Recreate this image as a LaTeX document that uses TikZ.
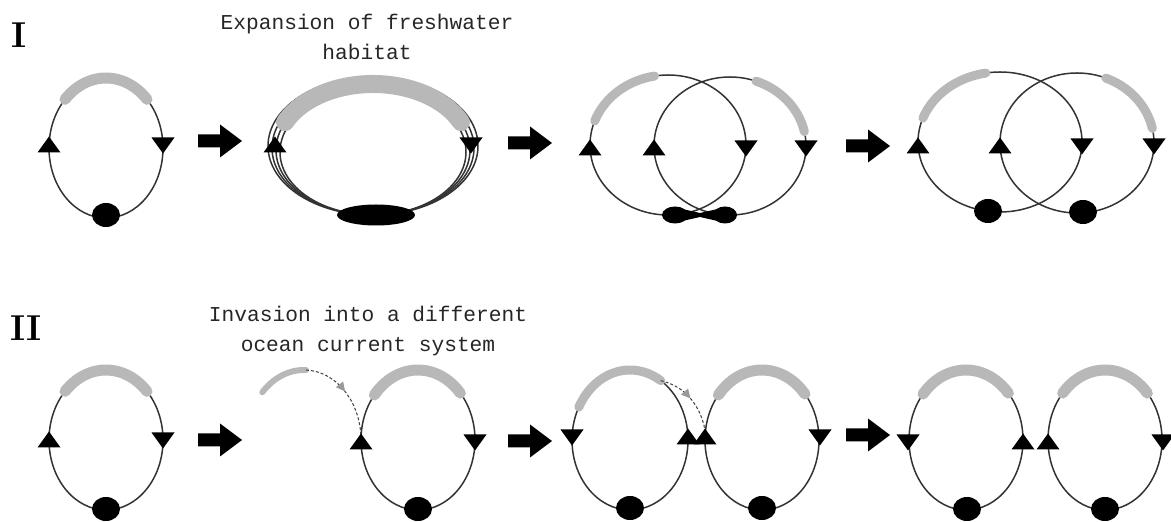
\documentclass[tikz,border=0pt]{standalone}
\usepackage{fontspec}
\setmonofont{Liberation Mono}
\usetikzlibrary{arrows.meta,shapes.geometric,decorations.markings}

\tikzset{
  current/.style={draw=black!80, line width=0.75pt},
  fresh/.style={draw=black!28, line width=5.5pt, line cap=round},
  spawn/.style={ellipse, fill=black, inner sep=0pt, minimum width=14pt, minimum height=12pt},
  caption/.style={font=\ttfamily\fontsize{10.6}{15}\selectfont, text=black!85, align=center},
  roman/.style={font=\bfseries\fontsize{18}{18}\selectfont},
  drift/.style={draw=black!75, line width=0.5pt, dash pattern=on 1.5pt off 1pt,
    postaction={decorate, decoration={markings, mark=at position 0.5 with
      {\arrow[draw=black!40, fill=white, solid]{Triangle[length=4.5pt, width=4.5pt]}}}}},
  upmark/.pic={\fill (-11.5,-7.5) -- (11.5,-7.5) -- (0,8.5) -- cycle;},
  downmark/.pic={\fill (-11.5,7.5) -- (11.5,7.5) -- (0,-8.5) -- cycle;},
  bigarrow/.pic={\fill (-22,-6.5) -- (0,-6.5) -- (0,-16.5) -- (22,0) -- (0,16.5) -- (0,6.5) -- (-22,6.5) -- cycle;},
}

\begin{document}
\begin{tikzpicture}[x=0.5pt, y=0.5pt]
    \useasboundingbox (0,0) rectangle (1171,-522);

    % row I
    \node[roman] (r1) at (19,-35) {I};
    \node[caption] (cap1) at (367,-37) {Expansion of freshwater\\habitat};

    \coordinate (a1) at (106,-148);
    \draw[current] (a1) ellipse [x radius=57, y radius=70];
    \draw[fresh] (a1) ++(136:57 and 70) arc [start angle=136, end angle=44, x radius=57, y radius=70];
    \node[spawn] (s1) at (106,-215) {};
    \pic at (49,-145) {upmark};
    \pic at (163,-145) {downmark};
    \pic at (220,-141) {bigarrow};

    \coordinate (b1) at (373,-150);
    \foreach \rx/\ry in {105/69, 101/67, 97/65, 93/63}
        \draw[current] (373,{-215+\ry}) ellipse [x radius=\rx, y radius=\ry];
    \draw[fresh, line width=9pt] (b1) ++(155:97 and 66) arc [start angle=155, end angle=25, x radius=97, y radius=66];
    \node[spawn, minimum width=39pt, minimum height=10.5pt] (s2) at (376,-215) {};
    \pic at (275,-145) {upmark};
    \pic at (471,-145) {downmark};
    \pic at (530,-143) {bigarrow};

    \coordinate (c1) at (668,-145);
    \coordinate (c2) at (730,-146);
    \draw[current] (c1) ellipse [x radius=78, y radius=70];
    \draw[current] (c2) ellipse [x radius=76, y radius=69];
    \draw[fresh, line width=4.5pt] (c1) ++(160:78 and 70) arc [start angle=160, end angle=100, x radius=78, y radius=70];
    \draw[fresh, line width=4.5pt] (c2) ++(70:76 and 69) arc [start angle=70, end angle=12, x radius=76, y radius=69];
    \fill (675,-215) ellipse [x radius=13, y radius=8.5];
    \fill (725,-215) ellipse [x radius=12, y radius=8.5];
    \fill (678,-208) -- (700,-213) -- (722,-208) -- (722,-222) -- (700,-217) -- (678,-222) -- cycle;
    \pic at (590,-148) {upmark};
    \pic at (654,-148) {upmark};
    \pic at (746,-148) {downmark};
    \pic at (806,-148) {downmark};
    \pic at (868,-146) {bigarrow};

    \coordinate (d1) at (1000,-142);
    \coordinate (d2) at (1077,-143);
    \draw[current] (d1) ellipse [x radius=82, y radius=70];
    \draw[current] (d2) ellipse [x radius=77, y radius=70];
    \draw[fresh, line width=4.5pt] (d1) ++(160:82 and 70) arc [start angle=160, end angle=100, x radius=82, y radius=70];
    \draw[fresh, line width=4.5pt] (d2) ++(68:77 and 70) arc [start angle=68, end angle=12, x radius=77, y radius=70];
    \node[spawn] (s3) at (988,-211) {};
    \node[spawn] (s4) at (1083,-212) {};
    \pic at (918,-146) {upmark};
    \pic at (1082,-146) {downmark};
    \pic at (1000,-146) {upmark};
    \pic at (1154,-146) {downmark};

    % row II
    \node[roman] (r2) at (26,-328) {II};
    \node[caption] (cap2) at (368,-331) {Invasion into a different\\ocean current system};

    \coordinate (e1) at (106,-440);
    \draw[current] (e1) ellipse [x radius=57, y radius=70];
    \draw[fresh] (e1) ++(136:57 and 70) arc [start angle=136, end angle=44, x radius=57, y radius=70];
    \node[spawn] (s5) at (106,-509) {};
    \pic at (49,-440) {upmark};
    \pic at (163,-440) {downmark};
    \pic at (220,-440) {bigarrow};

    \coordinate (f0) at (304,-440);
    \coordinate (f1) at (418,-440);
    \draw[fresh, line width=3pt] (f0) ++(137:57 and 70) arc [start angle=137, end angle=88, x radius=57, y radius=70] coordinate (g1);
    \draw[drift] (g1) arc [start angle=88, end angle=5, x radius=57, y radius=70];
    \draw[current] (f1) ellipse [x radius=57, y radius=70];
    \draw[fresh] (f1) ++(140:57 and 70) arc [start angle=140, end angle=42, x radius=57, y radius=70];
    \node[spawn] (s6) at (418,-509) {};
    \pic at (361,-442) {upmark};
    \pic at (475,-442) {downmark};
    \pic at (530,-441) {bigarrow};

    \coordinate (h1) at (630,-440);
    \coordinate (h2) at (762,-440);
    \coordinate (h3) at (705,-430);
    \draw[current] (h1) ellipse [x radius=58, y radius=70];
    \draw[current] (h2) ellipse [x radius=57, y radius=70];
    \draw[fresh, line width=4.5pt] (h1) ++(152:58 and 70) arc [start angle=152, end angle=58, x radius=58, y radius=70] coordinate (g2);
    \draw[fresh] (h2) ++(140:57 and 70) arc [start angle=140, end angle=41, x radius=57, y radius=70];
    \draw[drift] (g2) .. controls (684,-386) and (700,-404) .. (h3);
    \node[spawn] (s7) at (630,-508) {};
    \node[spawn] (s8) at (762,-508) {};
    \pic at (572,-437) {downmark};
    \pic at (688,-437) {upmark};
    \pic at (705,-437) {upmark};
    \pic at (820,-437) {downmark};
    \pic at (868,-435) {bigarrow};

    \coordinate (k1) at (966,-440);
    \coordinate (k2) at (1105,-440);
    \draw[current] (k1) ellipse [x radius=57, y radius=70];
    \draw[current] (k2) ellipse [x radius=57, y radius=70];
    \draw[fresh] (k1) ++(139:57 and 70) arc [start angle=139, end angle=42, x radius=57, y radius=70];
    \draw[fresh] (k2) ++(138:57 and 70) arc [start angle=138, end angle=42, x radius=57, y radius=70];
    \node[spawn] (s9) at (967,-509) {};
    \node[spawn] (s10) at (1105,-509) {};
    \pic at (908,-442) {downmark};
    \pic at (1023,-442) {upmark};
    \pic at (1048,-442) {upmark};
    \pic at (1163,-442) {downmark};

\end{tikzpicture}
\end{document}
